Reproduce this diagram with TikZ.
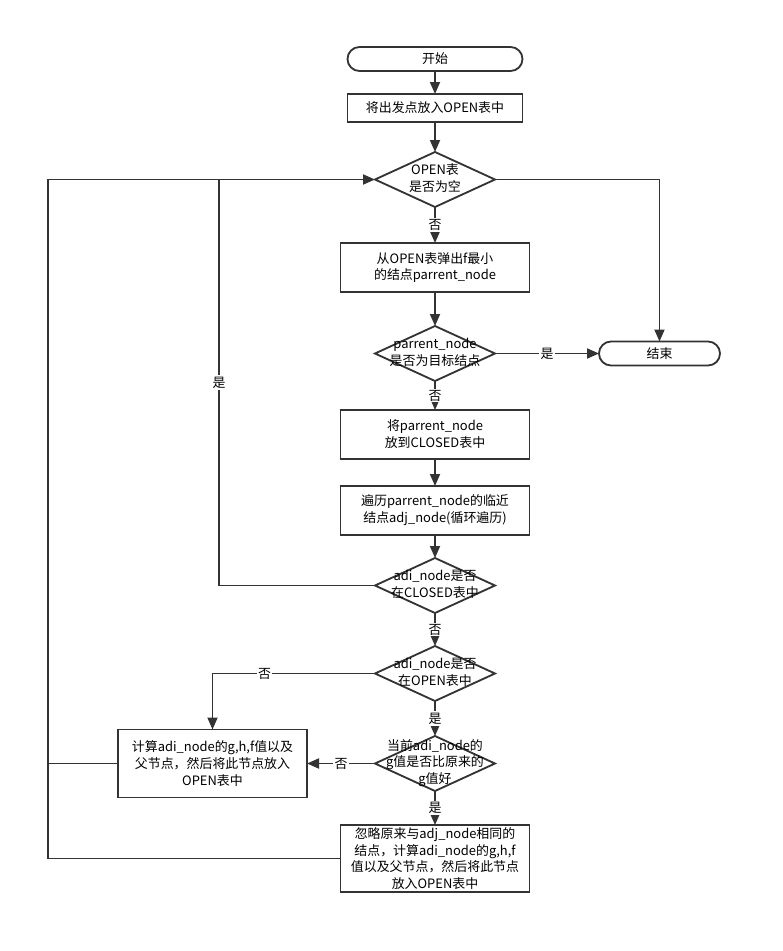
\documentclass[tikz,border=0pt]{standalone}
\usepackage{fontspec}
\setmainfont{Noto Sans CJK SC}
\usetikzlibrary{positioning,arrows.meta,shapes.geometric}
\definecolor{ink}{HTML}{333333}
% text of a decision, kept out of the diamond's size
\newcommand{\dtext}[1]{\makebox[0pt]{\raisebox{-0.25em}[0pt][0pt]{\begin{tabular}{@{}c@{}}#1\end{tabular}}}}

\begin{document}
\begin{tikzpicture}[
font=\fontsize{9.2pt}{12pt}\selectfont,
proc/.style={draw=ink,line width=1.3pt,outer sep=0pt,minimum width=4.725cm,minimum height=1.225cm,align=center,inner sep=1pt},
term/.style={draw=ink,line width=1.3pt,outer sep=0pt,rounded corners=0.3cm,minimum width=4.375cm,minimum height=0.6cm,inner sep=1pt},
decide/.style={draw=ink,line width=1.3pt,outer sep=0pt,diamond,minimum width=3cm,minimum height=1.375cm,inner sep=0pt},
lbl/.style={fill=white,inner sep=1pt},
flow/.style={draw=ink,line width=1.3pt,-{Triangle[length=0.3cm,width=0.25cm]}},
link/.style={draw=ink,line width=1.3pt}]
\useasboundingbox (0,0) rectangle (19.575,-23.775);
\node[term] (start) at (10.875,-1.475) {开始};
\node[proc,minimum width=4.375cm,minimum height=0.7cm] (put) [below=0.575cm of start] {将出发点放入OPEN表中};
\node[decide] (isempty) [below=0.75cm of put] {\dtext{OPEN表\\是否为空}};
\node[proc] (pop) [below=0.9cm of isempty] {从OPEN表弹出f最小\\的结点parrent\_node};
\node[decide] (isgoal) [below=0.85cm of pop] {\dtext{parrent\_node\\是否为目标结点}};
\node[term,minimum width=3.025cm] (finish) [right=2.6cm of isgoal] {结束};
\node[proc] (close) [below=0.725cm of isgoal] {将parrent\_node\\放到CLOSED表中};
\node[proc] (scan) [below=0.675cm of close] {遍历parrent\_node的临近\\结点adj\_node(循环遍历)};
\node[decide] (inclosed) [below=0.575cm of scan] {\dtext{adi\_node是否\\在CLOSED表中}};
\node[decide] (inopen) [below=0.825cm of inclosed] {\dtext{adi\_node是否\\在OPEN表中}};
\node[decide] (better) [below=0.875cm of inopen] {\dtext{当前adi\_node的\\g值是否比原来的\\g值好}};
\node[proc,minimum height=1.7cm] (calc) [left=1.7cm of better] {计算adi\_node的g,h,f值以及\\父节点，然后将此节点放入\\OPEN表中};
\node[proc,minimum height=1.675cm] (update) [below=0.85cm of better] {忽略原来与adj\_node相同的\\结点，计算adi\_node的g,h,f\\值以及父节点，然后将此节点\\放入OPEN表中};
\coordinate (backA) at (5.475,0);
\coordinate (backB) at (1.2,0);

\draw[flow] (start) -- (put);
\draw[flow] (put) -- (isempty);
\draw[flow] (isempty) -- node[lbl]{否} (pop);
\draw[flow] (isempty.east) -| (finish.north);
\draw[flow] (pop) -- (isgoal);
\draw[flow] (isgoal) -- node[lbl]{是} (finish);
\draw[flow] (isgoal) -- node[lbl]{否} (close);
\draw[flow] (close) -- (scan);
\draw[flow] (scan) -- (inclosed);
\draw[flow] (inclosed) -- node[lbl]{否} (inopen);
\draw[flow] (inopen) -- node[lbl]{是} (better);
\draw[flow] (better) -- node[lbl]{否} (calc);
\draw[flow] (better) -- node[lbl]{是} (update);
\draw[flow] (inopen.west) -| node[lbl,pos=0.34]{否} (calc.north);
\draw[flow] (inclosed.west) -| node[lbl,pos=0.75]{是} (backA |- isempty.west) -- (isempty.west);
\draw[link] (update.west) -| (backB |- isempty.west) -- (backA |- isempty.west);
\draw[link] (calc.west) -- (backB |- calc.west);
\end{tikzpicture}
\end{document}
